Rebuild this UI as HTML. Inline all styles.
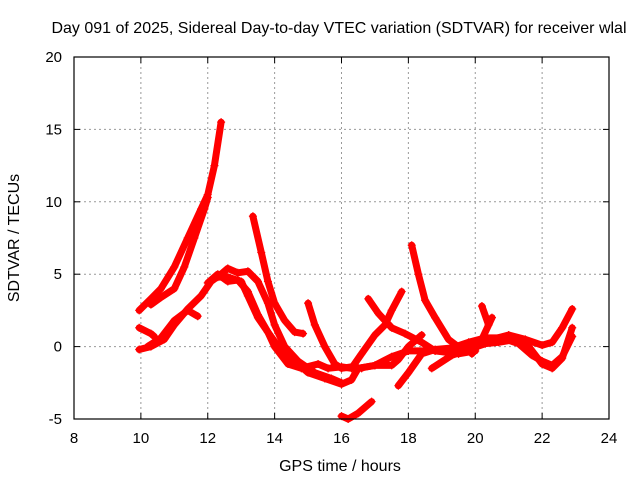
<!DOCTYPE html>
<html><head><meta charset="utf-8"><style>
body{margin:0;background:#fff;}
svg{display:block;font-family:"Liberation Sans",sans-serif;}
</style></head><body>
<svg id="chart" width="640" height="480" viewBox="0 0 640 480">
<rect width="640" height="480" fill="#fff"/>
<text x="339" y="33" font-size="16" text-anchor="middle" fill="#000">Day 091 of 2025, Sidereal Day-to-day VTEC variation (SDTVAR) for receiver wlal</text>
<g id="grid"></g>
<g id="ticks"></g>
<g id="series"></g>
<rect x="74" y="57" width="535" height="362" fill="none" stroke="#000" stroke-width="1.2"/>
<text transform="translate(19,238) rotate(-90)" font-size="16" text-anchor="middle">SDTVAR / TECUs</text>
<text x="340" y="471" font-size="16" text-anchor="middle">GPS time / hours</text>
</svg>
<script>
const xTicks=[8,10,12,14,16,18,20,22,24];
const yTicks=[-5,0,5,10,15,20];
const trackA=[[9.95,2.5],[10.3,3.3],[10.6,4],[11,5.5],[11.4,7.5],[11.8,9.5],[12,10.5],[12.2,12.5],[12.4,15.5]];
const trackB=[[10.3,2.9],[10.6,3.4],[11,4],[11.3,5.5],[11.6,7.5],[11.9,9.5],[12,10.3]];
const trackC=[[9.95,-0.2],[10.3,0],[10.7,0.5],[11,1.5],[11.4,2.6],[11.8,3.5],[12.1,4.5],[12.4,5],[12.6,5.4],[12.9,5.1],[13.2,5.2],[13.5,4.5],[13.8,3],[14,1.5],[14.3,0],[14.7,-1],[15.2,-1.8],[15.7,-2.2],[16,-2.5]];
const trackD=[[9.95,1.3],[10.3,0.9],[10.4,0.7]];
const trackE=[[10.2,0],[10.6,0.6],[11,1.8],[11.4,2.5],[11.7,2.1]];
const trackF=[[12,4.4],[12.3,5],[12.6,4.5],[12.9,4.6],[13.2,3.8],[13.5,2.2],[13.8,1],[14,0],[14.4,-1.2],[14.8,-1.5],[15.3,-1.2],[15.6,-1.5],[16,-1.4],[16.3,-1.5],[16.6,-0.5],[17,0.8],[17.3,1.5],[17.5,2.5],[17.8,3.8]];
const trackG=[[12.3,4.8],[12.6,4.8],[13,4.5],[13.2,3.5],[13.5,2],[13.8,1],[14.2,-0.3],[14.6,-1],[15,-1.8],[15.5,-2.2],[16,-2.6],[16.3,-2.3],[16.5,-1.5],[17,-1.3],[17.5,-1.3],[17.7,-0.9],[18,0],[18.4,0.8]];
const trackH=[[13.35,9],[13.6,6.5],[13.8,4.5],[14,3],[14.3,1.8],[14.6,1],[14.85,0.9]];
const trackI=[[15,3],[15.2,1.5],[15.5,0],[15.8,-1.2],[16,-1.5],[16.3,-1.4],[16.6,-1.5]];
const trackJ=[[16,-4.8],[16.2,-5],[16.5,-4.6],[16.9,-3.8]];
const trackK=[[16.8,3.3],[17.1,2.3],[17.5,1.3],[17.9,0.9],[18.4,0.3],[18.8,-0.3],[19.5,-0.5],[20,-0.3]];
const trackL=[[18.1,7],[18.3,5],[18.5,3.2],[18.8,2],[19.2,0.5],[19.6,-0.2],[20,0],[20.5,0.5],[21,0.8],[21.5,0.5],[22,0.1],[22.3,0.3],[22.6,1.3],[22.9,2.6]];
const trackM=[[17.7,-2.7],[18,-1.8],[18.4,-0.5],[18.8,-0.2],[19.3,-0.1],[19.8,0.3],[20.3,0.6],[20.8,0.6],[21.3,0.2],[21.7,-0.6],[22,-1],[22.3,-1.3],[22.6,-0.7],[22.9,0.7]];
const trackN=[[16.5,-1.5],[17,-1.3],[17.5,-0.7],[18,-0.3],[18.5,-0.3],[19,-0.2]];
const trackO=[[20.2,2.8],[20.4,1.5],[20.5,2],[20.2,0.5],[19.9,-0.5]];
const trackP=[[18.7,-1.5],[19.3,-0.6],[19.8,-0.2],[20.3,0.2],[20.7,0.3],[21.2,0.5],[21.5,0.1]];
const trackQ=[[21.6,0],[22,-1.2],[22.3,-1.5],[22.6,-0.8],[22.9,1.3]];
const tracks=[trackA,trackB,trackC,trackD,trackE,trackF,trackG,trackH,trackI,trackJ,trackK,trackL,trackM,trackN,trackO,trackP,trackQ];

const X0=74,X1=609,Y0=419,Y1=57;
function xs(v){return X0+(v-8)/(24-8)*(X1-X0);}
function ys(v){return Y0-(v+5)/(20+5)*(Y0-Y1);}
const NS="http://www.w3.org/2000/svg";
const grid=document.getElementById('grid'),ticks=document.getElementById('ticks'),ser=document.getElementById('series');
function mk(tag,attrs,parent){const e=document.createElementNS(NS,tag);for(const k in attrs)e.setAttribute(k,attrs[k]);parent.appendChild(e);return e;}
xTicks.forEach(t=>{
  const x=xs(t);
  if(t>8&&t<24){const g=mk('line',{x1:x,x2:x,y1:Y1,y2:Y0,stroke:'#999','stroke-dasharray':'2,3'},grid);
  
  }
  mk('line',{x1:x,x2:x,y1:Y0,y2:Y0-6,stroke:'#000'},ticks);
  mk('line',{x1:x,x2:x,y1:Y1,y2:Y1+6,stroke:'#000'},ticks);
  const tx=mk('text',{x:x,y:443,'font-size':15,'text-anchor':'middle'},ticks);
  
  
  tx.textContent=t;
});
yTicks.forEach(t=>{
  const y=ys(t);
  if(t>-5&&t<20){const g=mk('line',{x1:X0,x2:X1,y1:y,y2:y,stroke:'#999','stroke-dasharray':'2,3'},grid);
  
  }
  mk('line',{x1:X0,x2:X0+6,y1:y,y2:y,stroke:'#000'},ticks);
  mk('line',{x1:X1,x2:X1-6,y1:y,y2:y,stroke:'#000'},ticks);
  const tx=mk('text',{x:62,y:y+5,'font-size':15,'text-anchor':'end'},ticks);
  
  
  tx.textContent=t;
});
tracks.forEach(tr=>{
  const pts=tr.map(p=>xs(p[0]).toFixed(1)+','+ys(p[1]).toFixed(1)).join(' ');
  const pl=mk('polyline',{points:pts,fill:'none',stroke:'#ff0000','stroke-width':7,'stroke-linejoin':'round','stroke-linecap':'round'},ser);
  
  
  tr.forEach(p=>{
    const x=xs(p[0]),y=ys(p[1]);
    const m=mk('path',{d:`M${x-4},${y}H${x+4}M${x},${y-4}V${y+4}`,stroke:'#ff0000','stroke-width':1.2},ser);
    
    
  });
});
</script>
</body></html>
